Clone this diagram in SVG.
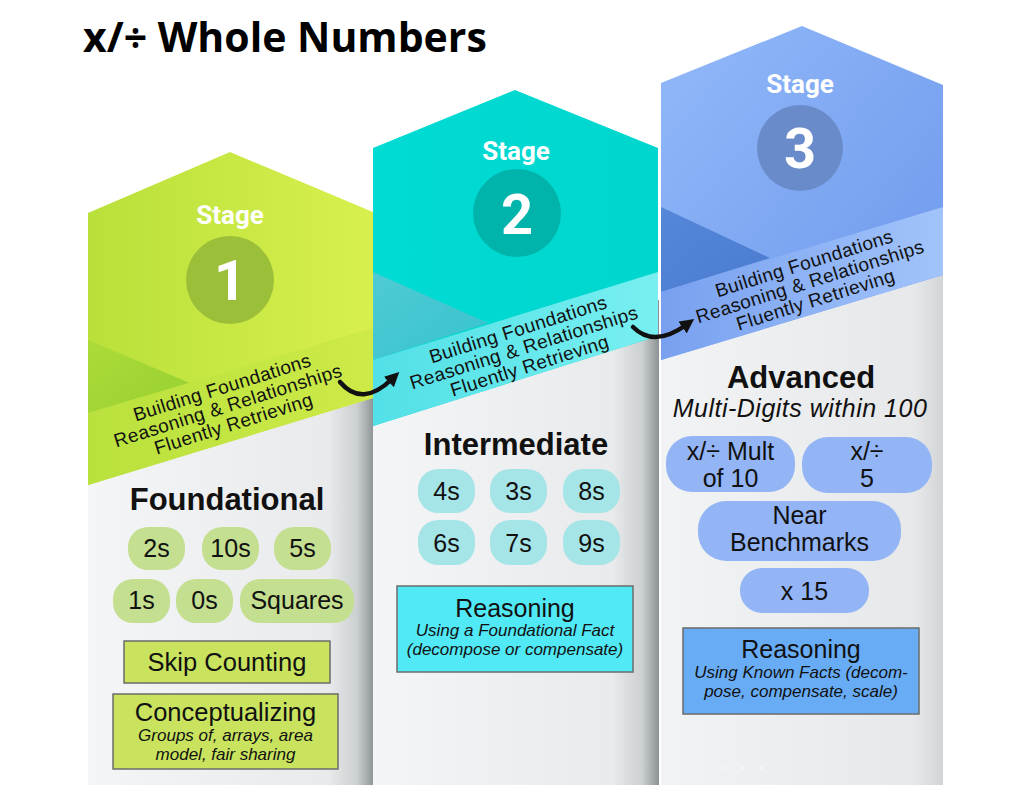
<svg xmlns="http://www.w3.org/2000/svg" width="1024" height="787" viewBox="0 0 1024 787">
<defs>
  <linearGradient id="colBg" x1="0" y1="0" x2="1" y2="0">
    <stop offset="0" stop-color="#f4f5f6"/>
    <stop offset="0.84" stop-color="#e8eaeb"/>
    <stop offset="0.94" stop-color="#ccd0d1"/>
    <stop offset="1" stop-color="#8c9294"/>
  </linearGradient>
  <linearGradient id="colBg3" x1="0" y1="0" x2="1" y2="0">
    <stop offset="0" stop-color="#f2f3f4"/>
    <stop offset="0.9" stop-color="#e6e8e9"/>
    <stop offset="1" stop-color="#d2d5d7"/>
  </linearGradient>
  <linearGradient id="g1" x1="0" y1="0" x2="1" y2="0">
    <stop offset="0" stop-color="#b9e03a"/>
    <stop offset="1" stop-color="#d8f04e"/>
  </linearGradient>
  <linearGradient id="g1band" x1="0" y1="0" x2="1" y2="0">
    <stop offset="0" stop-color="#b9e13d"/>
    <stop offset="1" stop-color="#cdea48"/>
  </linearGradient>
  <linearGradient id="g1tri" x1="0" y1="0" x2="1" y2="1">
    <stop offset="0" stop-color="#acdb38"/>
    <stop offset="1" stop-color="#98d032"/>
  </linearGradient>
  <linearGradient id="g2" x1="0" y1="0" x2="1" y2="0">
    <stop offset="0" stop-color="#00dbd3"/>
    <stop offset="1" stop-color="#00d6ce"/>
  </linearGradient>
  <linearGradient id="g2band" x1="0" y1="0" x2="1" y2="0">
    <stop offset="0" stop-color="#52e0e6"/>
    <stop offset="1" stop-color="#78eff1"/>
  </linearGradient>
  <linearGradient id="g2tri" x1="0" y1="0" x2="1" y2="1">
    <stop offset="0" stop-color="#4fcbd4"/>
    <stop offset="1" stop-color="#37c3cd"/>
  </linearGradient>
  <linearGradient id="g3" x1="0" y1="0" x2="1" y2="1">
    <stop offset="0" stop-color="#92b9f9"/>
    <stop offset="1" stop-color="#6c97ec"/>
  </linearGradient>
  <linearGradient id="g3band" x1="0" y1="0" x2="1" y2="0">
    <stop offset="0" stop-color="#78a0ef"/>
    <stop offset="1" stop-color="#a2c4fb"/>
  </linearGradient>
  <linearGradient id="g3tri" x1="0" y1="0" x2="1" y2="1">
    <stop offset="0" stop-color="#5587d8"/>
    <stop offset="1" stop-color="#4a7bd0"/>
  </linearGradient>
  <marker id="arrowHead" viewBox="0 0 10 10" refX="3" refY="5" markerWidth="3.2" markerHeight="3.2" orient="auto" markerUnits="strokeWidth">
    <path d="M0,0 L10,5 L0,10 Z" fill="#111"/>
  </marker>
</defs>
<style>
  .title { font-family: "Open Sans", "Liberation Sans", sans-serif; font-weight: 700; font-size: 41px; fill: #000; }
  .stage { font-family: Roboto, "Liberation Sans", sans-serif; font-weight: 700; font-size: 26px; fill: #fff; text-anchor: middle; }
  .num { font-family: Roboto, "Liberation Sans", sans-serif; font-weight: 700; font-size: 56px; fill: #fff; text-anchor: middle; }
  .band { font-family: "Liberation Sans", Arial, sans-serif; font-size: 19px; letter-spacing: 0.4px; fill: #111; text-anchor: middle; }
  .head { font-family: "Liberation Sans", Arial, sans-serif; font-weight: 700; font-size: 31px; fill: #111; text-anchor: middle; }
  .sub { font-family: "Liberation Sans", Arial, sans-serif; font-style: italic; font-size: 25px; letter-spacing: 0.5px; fill: #111; text-anchor: middle; }
  .pt { font-family: "Liberation Sans", Arial, sans-serif; font-size: 25px; fill: #111; text-anchor: middle; }
  .bt { font-family: "Liberation Sans", Arial, sans-serif; font-size: 25.5px; fill: #111; text-anchor: middle; }
  .it { font-family: "Liberation Sans", Arial, sans-serif; font-style: italic; font-size: 17px; fill: #111; text-anchor: middle; }
  .box { stroke: #6b6b6b; stroke-width: 1.5; }
  .p1 { fill: #c4df8f; }
  .p2 { fill: #a6e5e7; }
  .p3 { fill: #93b5f6; }
  .arrow { fill: none; stroke: #111; stroke-width: 4.5; stroke-linecap: round; }
</style>
<rect x="0" y="0" width="1024" height="787" fill="#ffffff"/>
<text class="title" x="83" y="52">x/÷ Whole Numbers</text>

<g id="stage1">
  <rect x="88" y="360" width="286" height="425" fill="url(#colBg)"/>
  <polygon points="230,152 373,212 373,398 88,485 88,213" fill="url(#g1)"/>
  <polygon points="88,340 190,383 88,413" fill="url(#g1tri)"/>
  <polygon points="88,413 373,328 373,398 88,485" fill="url(#g1band)"/>
  <text class="stage" x="230" y="224">Stage</text>
  <circle cx="230" cy="280" r="44" fill="#9cbf3a"/>
  <text class="num" x="230" y="300">1</text>
  <g transform="translate(228,406) rotate(-17.5)">
    <text class="band" x="0" y="-13">Building Foundations</text>
    <text class="band" x="0" y="6">Reasoning &amp; Relationships</text>
    <text class="band" x="0" y="25">Fluently Retrieving</text>
  </g>
  <text class="head" x="227" y="510">Foundational</text>
  <rect class="p1" x="128" y="527" width="57" height="43" rx="20"/>
  <text class="pt" x="156.5" y="557">2s</text>
  <rect class="p1" x="202" y="527" width="57" height="43" rx="20"/>
  <text class="pt" x="230.5" y="557">10s</text>
  <rect class="p1" x="274" y="527" width="57" height="43" rx="20"/>
  <text class="pt" x="302.5" y="557">5s</text>
  <rect class="p1" x="113" y="579" width="57" height="44" rx="20"/>
  <text class="pt" x="141.5" y="609">1s</text>
  <rect class="p1" x="176" y="579" width="57" height="44" rx="20"/>
  <text class="pt" x="204.5" y="609">0s</text>
  <rect class="p1" x="240" y="579" width="114" height="44" rx="20"/>
  <text class="pt" x="297" y="609">Squares</text>
  <rect class="box" x="124" y="641" width="206" height="42" fill="#c9e35f"/>
  <text class="bt" x="227" y="671">Skip Counting</text>
  <rect class="box" x="113" y="694" width="225" height="75" fill="#c9e35f"/>
  <text class="bt" x="225.5" y="721">Conceptualizing</text>
  <text class="it" x="225.5" y="741">Groups of, arrays, area</text>
  <text class="it" x="225.5" y="760">model, fair sharing</text>
</g>

<g id="stage2">
  <rect x="373" y="300" width="286" height="485" fill="url(#colBg)"/>
  <polygon points="515,90 658,148 658,336 373,426 373,148" fill="url(#g2)"/>
  <polygon points="373,272 488,323 373,360" fill="url(#g2tri)"/>
  <polygon points="373,360 658,272 658,336 373,426" fill="url(#g2band)"/>
  <text class="stage" x="516" y="160">Stage</text>
  <circle cx="517" cy="213" r="44" fill="#00b4ac"/>
  <text class="num" x="517" y="234">2</text>
  <g transform="translate(524,348) rotate(-17.5)">
    <text class="band" x="0" y="-13">Building Foundations</text>
    <text class="band" x="0" y="6">Reasoning &amp; Relationships</text>
    <text class="band" x="0" y="25">Fluently Retrieving</text>
  </g>
  <text class="head" x="516" y="455">Intermediate</text>
  <rect class="p2" x="418" y="469" width="57" height="44" rx="20"/>
  <text class="pt" x="446.5" y="500">4s</text>
  <rect class="p2" x="490" y="469" width="57" height="44" rx="20"/>
  <text class="pt" x="518.5" y="500">3s</text>
  <rect class="p2" x="563" y="469" width="57" height="44" rx="20"/>
  <text class="pt" x="591.5" y="500">8s</text>
  <rect class="p2" x="418" y="520" width="57" height="45" rx="20"/>
  <text class="pt" x="446.5" y="552">6s</text>
  <rect class="p2" x="490" y="520" width="57" height="45" rx="20"/>
  <text class="pt" x="518.5" y="552">7s</text>
  <rect class="p2" x="563" y="520" width="57" height="45" rx="20"/>
  <text class="pt" x="591.5" y="552">9s</text>
  <rect class="box" x="397" y="586" width="236" height="86" fill="#52e9f6"/>
  <text class="pt" x="515" y="617">Reasoning</text>
  <text class="it" x="515" y="636">Using a Foundational Fact</text>
  <text class="it" x="515" y="655">(decompose or compensate)</text>
</g>

<g id="stage3">
  <rect x="661" y="240" width="282" height="545" fill="url(#colBg3)"/>
  <polygon points="802,26 943,85 943,275 661,360 661,83" fill="url(#g3)"/>
  <polygon points="661,207 770,258 661,292" fill="url(#g3tri)"/>
  <polygon points="661,292 943,207 943,275 661,360" fill="url(#g3band)"/>
  <text class="stage" x="800" y="93">Stage</text>
  <circle cx="800" cy="148" r="43" fill="#6a8bc9"/>
  <text class="num" x="800" y="168">3</text>
  <g transform="translate(810,282) rotate(-17.5)">
    <text class="band" x="0" y="-13">Building Foundations</text>
    <text class="band" x="0" y="6">Reasoning &amp; Relationships</text>
    <text class="band" x="0" y="25">Fluently Retrieving</text>
  </g>
  <text class="head" x="801" y="388">Advanced</text>
  <text class="sub" x="800" y="417">Multi-Digits within 100</text>
  <rect class="p3" x="666" y="436" width="129" height="56" rx="26"/>
  <text class="pt" x="730.5" y="460">x/÷ Mult</text>
  <text class="pt" x="730.5" y="487">of 10</text>
  <rect class="p3" x="802" y="437" width="130" height="56" rx="26"/>
  <text class="pt" x="867" y="460">x/÷</text>
  <text class="pt" x="867" y="487">5</text>
  <rect class="p3" x="698" y="501" width="203" height="60" rx="28"/>
  <text class="pt" x="799.5" y="524">Near</text>
  <text class="pt" x="799.5" y="551">Benchmarks</text>
  <rect class="p3" x="740" y="568" width="129" height="45" rx="22"/>
  <text class="pt" x="804.5" y="600">x 15</text>
  <rect class="box" x="683" y="628" width="236" height="86" fill="#68acf6"/>
  <text class="pt" x="801" y="658">Reasoning</text>
  <text class="it" x="801" y="678">Using Known Facts (decom-</text>
  <text class="it" x="801" y="697">pose, compensate, scale)</text>
  <circle cx="725" cy="768" r="1" fill="#ffffff"/>
  <circle cx="743" cy="768" r="1" fill="#ffffff"/>
  <circle cx="762" cy="768" r="1" fill="#ffffff"/>
</g>

<g id="connectors">
  <path class="arrow" d="M340,382 Q362,408 392,379" marker-end="url(#arrowHead)"/>
  <path class="arrow" d="M633,327 Q654,348 686,325" marker-end="url(#arrowHead)"/>
</g>
</svg>
